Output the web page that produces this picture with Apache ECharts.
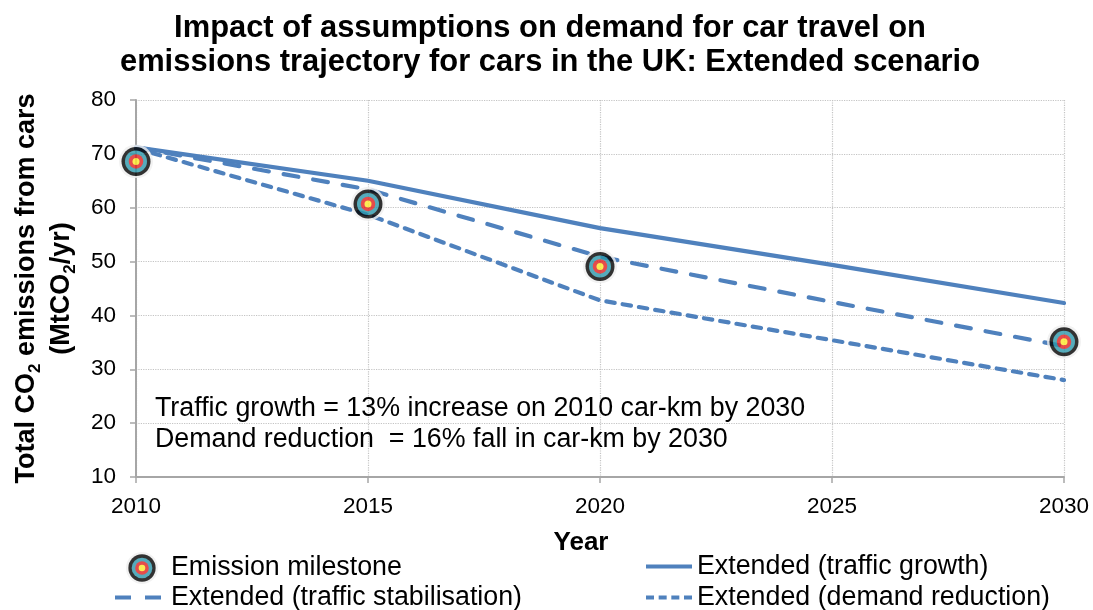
<!DOCTYPE html>
<html><head><meta charset="utf-8">
<style>html,body{margin:0;padding:0;background:#fff}#c{width:1093px;height:610px}</style>
<script src="https://cdn.jsdelivr.net/npm/echarts@6/dist/echarts.min.js"></script>
</head><body><div id="c"></div>
<script>
const years = [2010, 2015, 2020, 2025, 2030];
const milestoneYears = [2010, 2015, 2020, 2030];
const milestone = [68.6, 60.7, 49.1, 35.1];
const growth = [71.2, 65.0, 56.2, 49.4, 42.3];
const stabilisation = [71.2, 63.4, 50.9, 42.5, 34.3];
const reduction = [71.0, 58.7, 42.8, 35.4, 28.0];
const pair = (xs, ys) => xs.map((x, i) => [x, ys[i]]);
const FONT = '"Liberation Sans", Arial, sans-serif';
const BLUE = '#4f81bd';
const svg = '<svg xmlns="http://www.w3.org/2000/svg" width="136" height="136" viewBox="0 0 68 68">' +
  '<circle cx="34" cy="34" r="34" fill="#efefef"/><circle cx="34" cy="34" r="29" fill="#000"/>' +
  '<circle cx="34" cy="34" r="22" fill="#2b97ab"/><circle cx="34" cy="34" r="14.5" fill="#e0201f"/>' +
  '<circle cx="34" cy="34" r="7" fill="#fbe92a"/></svg>';
const target = 'image://data:image/svg+xml;charset=utf-8,' + encodeURIComponent(svg);
const legendText = {fontFamily: FONT, fontSize: 26.8, color: '#000'};
const mkLegend = (name, left, top, icon, h, pad) => ({
  data: [{name, icon}], left, top, orient: 'horizontal', itemWidth: 46, itemHeight: h, itemGap: 0,
  textStyle: Object.assign({padding: [0, 0, 0, pad]}, legendText), padding: 0, selectedMode: false
});
const lineSeries = (name, data, type) => ({
  name, type: 'line', data: pair(years, data), showSymbol: false, symbol: 'none', smooth: false,
  lineStyle: {color: BLUE, width: 4.2, type, cap: 'round', join: 'round'}, itemStyle: {color: BLUE}, z: 2
});
const solidIcon = 'path://M0 0H46V4H0Z';
const longDashIcon = 'path://M0 0H16V4H0ZM30 0H46V4H30Z';
const shortDashIcon = 'path://M0 0H8V4H0ZM12.67 0H20.67V4H12.67ZM25.33 0H33.33V4H25.33ZM38 0H46V4H38Z';
const chart = echarts.init(document.getElementById('c'), null, {renderer: 'canvas'});
chart.setOption({
  animation: false,
  backgroundColor: '#fff',
  title: {
    text: 'Impact of assumptions on demand for car travel on\nemissions trajectory for cars in the UK: Extended scenario',
    left: 545, top: 6, textAlign: 'center',
    textStyle: {fontFamily: FONT, fontSize: 30.9, fontWeight: 'bold', color: '#000', lineHeight: 34}
  },
  grid: {left: 136, right: 29, top: 100, bottom: 133, containLabel: false, outerBoundsMode: 'none'},
  legend: [
    mkLegend('Emission milestone', 119, 552, target, 32, 1),
    mkLegend('Extended (traffic stabilisation)', 115, 584, longDashIcon, 4, 5),
    mkLegend('Extended (traffic growth)', 646, 553, solidIcon, 4, 0),
    mkLegend('Extended (demand reduction)', 646, 584, shortDashIcon, 4, 0)
  ],
  xAxis: {
    type: 'value', min: 2010, max: 2030, interval: 5,
    name: 'Year', nameLocation: 'middle', nameGap: 53,
    nameTextStyle: {fontFamily: FONT, fontSize: 26, fontWeight: 'bold', color: '#000', padding: [0, 38, 0, 0]},
    axisLine: {show: true, lineStyle: {color: '#a6a6a6', width: 2}},
    axisTick: {show: true, length: 6, lineStyle: {color: '#a6a6a6', width: 1.5}},
    axisLabel: {fontFamily: FONT, fontSize: 22.5, color: '#000', margin: 18, formatter: v => String(v)},
    splitLine: {show: true, lineStyle: {color: '#c4c4c4', width: 1.2, type: 'dotted'}}
  },
  yAxis: {
    type: 'value', min: 10, max: 80, interval: 10,
    name: '{b|Total CO}{s|2}{b| emissions from cars}\n{b|(MtCO}{s|2}{b|/yr)}',
    nameLocation: 'middle', nameGap: 57, nameRotate: 90,
    nameTextStyle: {
      fontFamily: FONT, color: '#000', fontWeight: 'bold', lineHeight: 35, align: 'center',
      rich: {
        b: {fontFamily: FONT, fontSize: 27, fontWeight: 'bold', color: '#000', lineHeight: 35},
        s: {fontFamily: FONT, fontSize: 17, fontWeight: 'bold', color: '#000', verticalAlign: 'bottom', lineHeight: 28}
      }
    },
    axisLine: {show: true, lineStyle: {color: '#a6a6a6', width: 2}},
    axisTick: {show: true, length: 6, lineStyle: {color: '#a6a6a6', width: 1.5}},
    axisLabel: {fontFamily: FONT, fontSize: 22.5, color: '#000', margin: 20},
    splitLine: {show: true, lineStyle: {color: '#c4c4c4', width: 1.2, type: 'dotted'}}
  },
  series: [
    lineSeries('Extended (traffic growth)', growth, 'solid'),
    lineSeries('Extended (traffic stabilisation)', stabilisation, [15, 15]),
    lineSeries('Extended (demand reduction)', reduction, [8.5, 8]),
    {name: 'Emission milestone', type: 'scatter', data: pair(milestoneYears, milestone),
     symbol: target, symbolSize: 34, z: 5, clip: false}
  ],
  graphic: [{
    type: 'text', left: 155, top: 393, z: 10,
    style: {
      text: 'Traffic growth = 13% increase on 2010 car-km by 2030\nDemand reduction  = 16% fall in car-km by 2030',
      font: '26.8px ' + FONT, fill: '#000', lineHeight: 31
    }
  }]
});
</script></body></html>
